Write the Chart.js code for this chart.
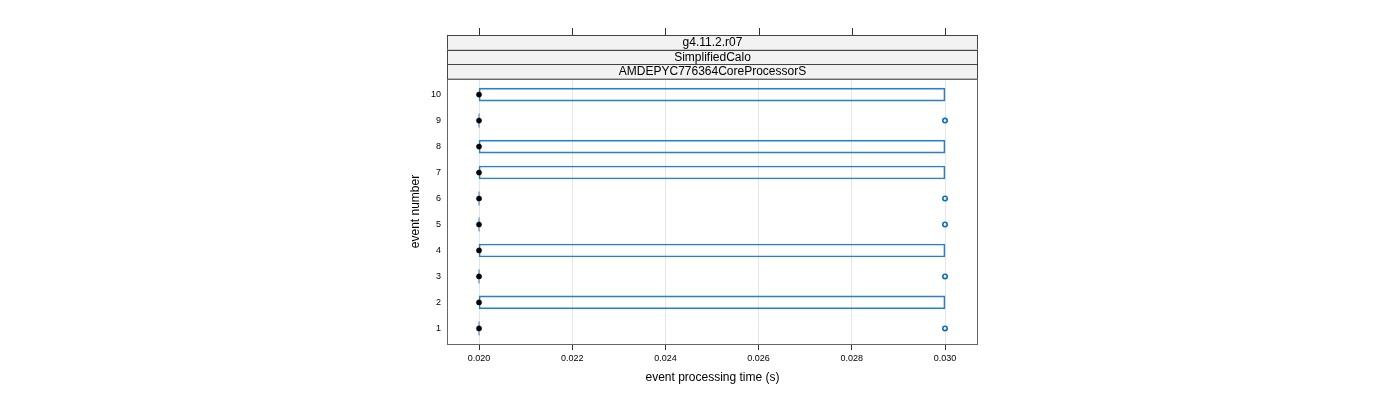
<!DOCTYPE html>
<html><head><meta charset="utf-8">
<script src="https://cdn.jsdelivr.net/npm/chart.js@4/dist/chart.umd.min.js"></script>
<style>html,body{margin:0;padding:0;background:#fff;}#wrap{width:1400px;height:400px;}</style>
</head><body><div id="wrap"><canvas id="c" width="1400" height="400"></canvas></div>
<script>
const events = [1,2,3,4,5,6,7,8,9,10];
const q1 =     [0.020,0.020,0.020,0.020,0.020,0.020,0.020,0.020,0.020,0.020];
const q3 =     [0.020,0.030,0.020,0.030,0.020,0.020,0.030,0.030,0.020,0.030];
const median = [0.020,0.020,0.020,0.020,0.020,0.020,0.020,0.020,0.020,0.020];
const outliers = [[0.030],[],[0.030],[],[0.030],[0.030],[],[],[0.030],[]];
const xTicks = [0.020,0.022,0.024,0.026,0.028,0.030];
const strips = ['g4.11.2.r07','SimplifiedCalo','AMDEPYC776364CoreProcessorS'];
const xTitle = 'event processing time (s)';
const yTitle = 'event number';

const boxData = [], flatData = [], medData = [], outData = [];
events.forEach((e,i)=>{
  if (q3[i] > q1[i]) boxData.push({x:[q1[i],q3[i]], y:e});
  else flatData.push({x:q1[i], y:e});
  medData.push({x:median[i], y:e});
  outliers[i].forEach(v=>outData.push({x:v,y:e}));
});

const BLUE = '#2a80c2';
const FONT = "'Liberation Sans', Arial, Helvetica, sans-serif";
Chart.defaults.font.family = FONT;
Chart.defaults.color = '#000';

const stripPlugin = {
  id:'strips',
  afterDraw(chart){
    const ctx = chart.ctx, a = chart.chartArea, xs = chart.scales.x;
    const h = (a.top - 35)/strips.length;
    ctx.save();
    for (let k=0;k<strips.length;k++){
      const y0 = 35 + k*h;
      ctx.fillStyle = '#f2f2f2';
      ctx.fillRect(a.left, y0, a.right-a.left, h);
      ctx.strokeStyle = '#444'; ctx.lineWidth = 1;
      ctx.strokeRect(a.left+0.5, Math.round(y0)+0.5, a.right-a.left-1, h);
      ctx.fillStyle = '#000';
      ctx.font = '12px ' + FONT;
      ctx.textAlign = 'center'; ctx.textBaseline = 'middle';
      ctx.fillText(strips[k], (a.left+a.right)/2, y0 + h/2 + 0.5);
    }
    ctx.strokeStyle = '#333'; ctx.lineWidth = 1;
    xTicks.forEach(v=>{
      const px = Math.round(xs.getPixelForValue(v))+0.5;
      ctx.beginPath(); ctx.moveTo(px, 28); ctx.lineTo(px, 35); ctx.stroke();
    });
    ctx.strokeStyle = '#666';
    ctx.strokeRect(a.left+0.5, a.top+0.5, a.right-a.left-1, a.bottom-a.top);
    ctx.restore();
  }
};

new Chart(document.getElementById('c'), {
  type:'scatter',
  data:{datasets:[
    {type:'scatter', data:medData, pointRadius:2.6, pointBackgroundColor:'#000', pointBorderColor:'#000', pointBorderWidth:0.5, showLine:false},
    {type:'scatter', data:outData, pointRadius:2.2, pointBackgroundColor:'rgba(0,0,0,0)', pointBorderColor:'#0a6fb3', pointBorderWidth:1.6, showLine:false},
    {type:'scatter', data:flatData, pointStyle:'line', rotation:90, pointRadius:7, pointBorderColor:BLUE, pointBorderWidth:1, showLine:false},
    {type:'bar', indexAxis:'y', data:boxData, barThickness:13, backgroundColor:'rgba(0,0,0,0)', borderColor:BLUE, borderWidth:1, borderSkipped:false}
  ]},
  options:{
    responsive:false, animation:false,
    layout:{padding:{left:404, right:422, top:79, bottom:11}},
    plugins:{legend:{display:false}, tooltip:{enabled:false}},
    scales:{
      x:{type:'linear', position:'bottom', min:0.019313, max:0.030708, offset:false,
        afterBuildTicks(s){ s.ticks = xTicks.map(v=>({value:v})); },
        afterFit(s){ s.height = 45; },
        ticks:{font:{size:9}, padding:3, maxRotation:0, callback:(v)=>Number(v).toFixed(3)},
        grid:{color:'#e6e6e6', tickColor:'#333', tickLength:6, drawTicks:true, offset:false},
        border:{display:false},
        title:{display:true, text:xTitle, font:{size:12}, padding:{top:4,bottom:4}}
      },
      y:{type:'linear', position:'left', min:0.4, max:10.6, offset:false,
        afterBuildTicks(s){ s.ticks = events.map(v=>({value:v})); },
        afterFit(s){ s.width = 43; },
        ticks:{font:{size:9}, padding:6, callback:(v)=>String(v)},
        grid:{display:false, drawTicks:false, offset:false},
        border:{display:false},
        title:{display:true, text:yTitle, font:{size:12}, padding:{top:4,bottom:4}}
      }
    }
  },
  plugins:[stripPlugin]
});
</script></body></html>
